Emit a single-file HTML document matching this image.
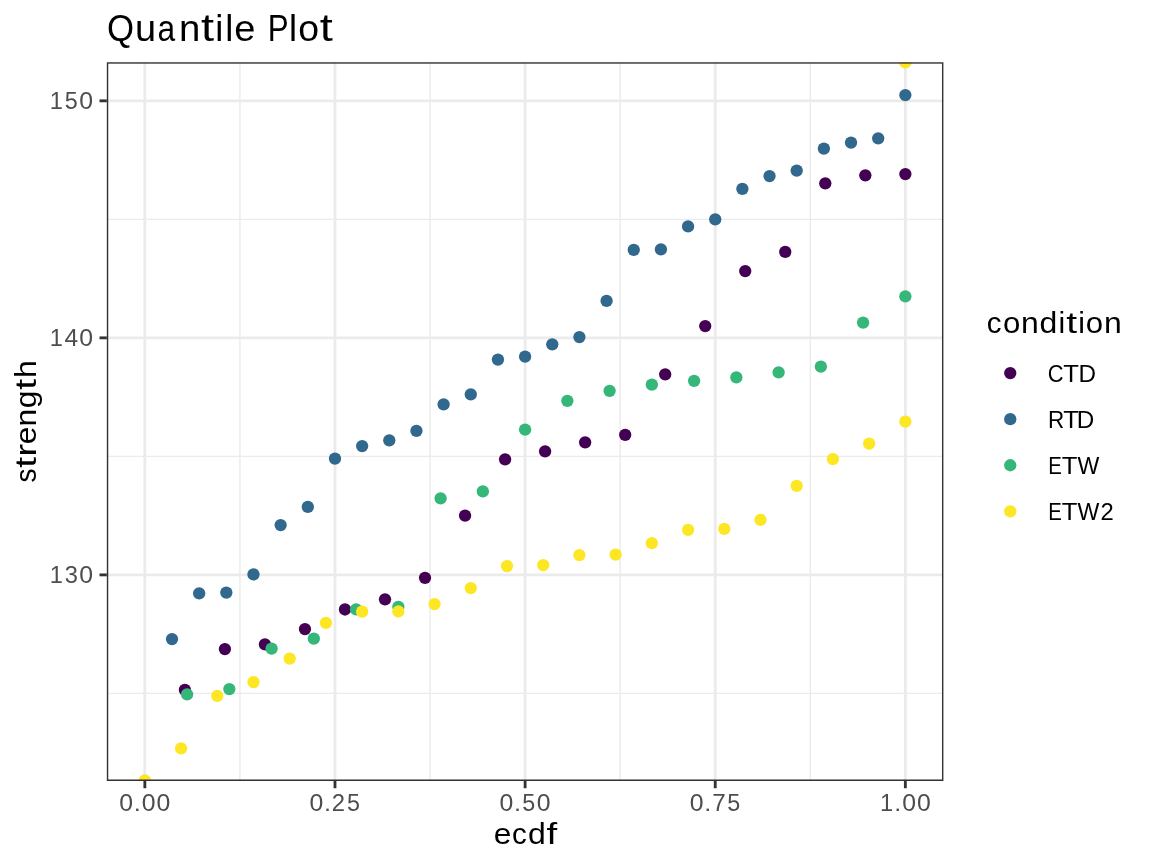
<!DOCTYPE html><html><head><meta charset="utf-8"><style>html,body{margin:0;padding:0;background:#fff;}svg{display:block;will-change:transform;}text{font-family:"Liberation Sans",sans-serif;}</style></head><body>
<svg width="1152" height="865" viewBox="0 0 1152 865">
<rect width="1152" height="865" fill="#fff"/>
<defs><clipPath id="pc"><rect x="106.83" y="62.25" width="836.57" height="718.65"/></clipPath></defs>
<g clip-path="url(#pc)">
<line x1="239.91" y1="62.25" x2="239.91" y2="780.9" stroke="#EBEBEB" stroke-width="1.4226"/>
<line x1="430.04" y1="62.25" x2="430.04" y2="780.9" stroke="#EBEBEB" stroke-width="1.4226"/>
<line x1="620.16" y1="62.25" x2="620.16" y2="780.9" stroke="#EBEBEB" stroke-width="1.4226"/>
<line x1="810.29" y1="62.25" x2="810.29" y2="780.9" stroke="#EBEBEB" stroke-width="1.4226"/>
<line x1="106.83" y1="693.39" x2="943.4" y2="693.39" stroke="#EBEBEB" stroke-width="1.4226"/>
<line x1="106.83" y1="456.36" x2="943.4" y2="456.36" stroke="#EBEBEB" stroke-width="1.4226"/>
<line x1="106.83" y1="219.34" x2="943.4" y2="219.34" stroke="#EBEBEB" stroke-width="1.4226"/>
<line x1="144.85" y1="62.25" x2="144.85" y2="780.9" stroke="#EBEBEB" stroke-width="2.845"/>
<line x1="334.98" y1="62.25" x2="334.98" y2="780.9" stroke="#EBEBEB" stroke-width="2.845"/>
<line x1="525.10" y1="62.25" x2="525.10" y2="780.9" stroke="#EBEBEB" stroke-width="2.845"/>
<line x1="715.23" y1="62.25" x2="715.23" y2="780.9" stroke="#EBEBEB" stroke-width="2.845"/>
<line x1="905.35" y1="62.25" x2="905.35" y2="780.9" stroke="#EBEBEB" stroke-width="2.845"/>
<line x1="106.83" y1="574.88" x2="943.4" y2="574.88" stroke="#EBEBEB" stroke-width="2.845"/>
<line x1="106.83" y1="337.85" x2="943.4" y2="337.85" stroke="#EBEBEB" stroke-width="2.845"/>
<line x1="106.83" y1="100.83" x2="943.4" y2="100.83" stroke="#EBEBEB" stroke-width="2.845"/>
<circle cx="184.88" cy="689.80" r="6.16" fill="#440154"/>
<circle cx="224.90" cy="649.05" r="6.16" fill="#440154"/>
<circle cx="264.93" cy="644.30" r="6.16" fill="#440154"/>
<circle cx="304.96" cy="629.05" r="6.16" fill="#440154"/>
<circle cx="344.98" cy="609.47" r="6.16" fill="#440154"/>
<circle cx="385.01" cy="599.30" r="6.16" fill="#440154"/>
<circle cx="425.03" cy="577.80" r="6.16" fill="#440154"/>
<circle cx="465.06" cy="515.55" r="6.16" fill="#440154"/>
<circle cx="505.09" cy="459.30" r="6.16" fill="#440154"/>
<circle cx="545.11" cy="451.30" r="6.16" fill="#440154"/>
<circle cx="585.14" cy="442.30" r="6.16" fill="#440154"/>
<circle cx="625.17" cy="434.80" r="6.16" fill="#440154"/>
<circle cx="665.19" cy="374.30" r="6.16" fill="#440154"/>
<circle cx="705.22" cy="326.05" r="6.16" fill="#440154"/>
<circle cx="745.24" cy="271.05" r="6.16" fill="#440154"/>
<circle cx="785.27" cy="251.80" r="6.16" fill="#440154"/>
<circle cx="825.30" cy="183.30" r="6.16" fill="#440154"/>
<circle cx="865.32" cy="175.30" r="6.16" fill="#440154"/>
<circle cx="905.35" cy="174.05" r="6.16" fill="#440154"/>
<circle cx="172.01" cy="639.05" r="6.16" fill="#31688E"/>
<circle cx="199.17" cy="593.30" r="6.16" fill="#31688E"/>
<circle cx="226.33" cy="592.55" r="6.16" fill="#31688E"/>
<circle cx="253.49" cy="574.30" r="6.16" fill="#31688E"/>
<circle cx="280.65" cy="525.05" r="6.16" fill="#31688E"/>
<circle cx="307.81" cy="506.80" r="6.16" fill="#31688E"/>
<circle cx="334.98" cy="458.55" r="6.16" fill="#31688E"/>
<circle cx="362.14" cy="446.05" r="6.16" fill="#31688E"/>
<circle cx="389.30" cy="440.30" r="6.16" fill="#31688E"/>
<circle cx="416.46" cy="430.80" r="6.16" fill="#31688E"/>
<circle cx="443.62" cy="404.30" r="6.16" fill="#31688E"/>
<circle cx="470.78" cy="394.30" r="6.16" fill="#31688E"/>
<circle cx="497.94" cy="359.55" r="6.16" fill="#31688E"/>
<circle cx="525.10" cy="356.55" r="6.16" fill="#31688E"/>
<circle cx="552.26" cy="344.30" r="6.16" fill="#31688E"/>
<circle cx="579.42" cy="337.05" r="6.16" fill="#31688E"/>
<circle cx="606.58" cy="300.90" r="6.16" fill="#31688E"/>
<circle cx="633.74" cy="249.80" r="6.16" fill="#31688E"/>
<circle cx="660.90" cy="249.30" r="6.16" fill="#31688E"/>
<circle cx="688.06" cy="226.40" r="6.16" fill="#31688E"/>
<circle cx="715.23" cy="219.30" r="6.16" fill="#31688E"/>
<circle cx="742.39" cy="188.80" r="6.16" fill="#31688E"/>
<circle cx="769.55" cy="176.05" r="6.16" fill="#31688E"/>
<circle cx="796.71" cy="170.55" r="6.16" fill="#31688E"/>
<circle cx="823.87" cy="148.55" r="6.16" fill="#31688E"/>
<circle cx="851.03" cy="142.55" r="6.16" fill="#31688E"/>
<circle cx="878.19" cy="138.30" r="6.16" fill="#31688E"/>
<circle cx="905.35" cy="95.05" r="6.16" fill="#31688E"/>
<circle cx="187.10" cy="694.30" r="6.16" fill="#35B779"/>
<circle cx="229.35" cy="689.05" r="6.16" fill="#35B779"/>
<circle cx="271.60" cy="648.55" r="6.16" fill="#35B779"/>
<circle cx="313.85" cy="638.55" r="6.16" fill="#35B779"/>
<circle cx="356.10" cy="609.40" r="6.16" fill="#35B779"/>
<circle cx="398.35" cy="606.80" r="6.16" fill="#35B779"/>
<circle cx="440.60" cy="498.30" r="6.16" fill="#35B779"/>
<circle cx="482.85" cy="491.30" r="6.16" fill="#35B779"/>
<circle cx="525.10" cy="429.55" r="6.16" fill="#35B779"/>
<circle cx="567.35" cy="400.80" r="6.16" fill="#35B779"/>
<circle cx="609.60" cy="390.80" r="6.16" fill="#35B779"/>
<circle cx="651.85" cy="384.55" r="6.16" fill="#35B779"/>
<circle cx="694.10" cy="380.80" r="6.16" fill="#35B779"/>
<circle cx="736.35" cy="377.30" r="6.16" fill="#35B779"/>
<circle cx="778.60" cy="372.30" r="6.16" fill="#35B779"/>
<circle cx="820.85" cy="366.55" r="6.16" fill="#35B779"/>
<circle cx="863.10" cy="322.55" r="6.16" fill="#35B779"/>
<circle cx="905.35" cy="296.30" r="6.16" fill="#35B779"/>
<circle cx="144.85" cy="780.40" r="6.16" fill="#FDE725"/>
<circle cx="181.06" cy="748.40" r="6.16" fill="#FDE725"/>
<circle cx="217.28" cy="695.80" r="6.16" fill="#FDE725"/>
<circle cx="253.49" cy="682.05" r="6.16" fill="#FDE725"/>
<circle cx="289.71" cy="658.55" r="6.16" fill="#FDE725"/>
<circle cx="325.92" cy="622.80" r="6.16" fill="#FDE725"/>
<circle cx="362.14" cy="611.70" r="6.16" fill="#FDE725"/>
<circle cx="398.35" cy="611.50" r="6.16" fill="#FDE725"/>
<circle cx="434.56" cy="604.05" r="6.16" fill="#FDE725"/>
<circle cx="470.78" cy="588.05" r="6.16" fill="#FDE725"/>
<circle cx="506.99" cy="566.05" r="6.16" fill="#FDE725"/>
<circle cx="543.21" cy="565.05" r="6.16" fill="#FDE725"/>
<circle cx="579.42" cy="555.05" r="6.16" fill="#FDE725"/>
<circle cx="615.64" cy="554.55" r="6.16" fill="#FDE725"/>
<circle cx="651.85" cy="543.20" r="6.16" fill="#FDE725"/>
<circle cx="688.06" cy="529.80" r="6.16" fill="#FDE725"/>
<circle cx="724.28" cy="528.80" r="6.16" fill="#FDE725"/>
<circle cx="760.49" cy="519.80" r="6.16" fill="#FDE725"/>
<circle cx="796.71" cy="485.80" r="6.16" fill="#FDE725"/>
<circle cx="832.92" cy="459.05" r="6.16" fill="#FDE725"/>
<circle cx="869.14" cy="443.55" r="6.16" fill="#FDE725"/>
<circle cx="905.35" cy="421.55" r="6.16" fill="#FDE725"/>
<circle cx="905.35" cy="62.45" r="6.16" fill="#FDE725"/>
<rect x="106.83" y="62.25" width="836.57" height="718.65" fill="none" stroke="#333333" stroke-width="2.845"/>
</g>
<line x1="144.85" y1="780.9" x2="144.85" y2="788.23" stroke="#333333" stroke-width="2.845"/>
<line x1="334.98" y1="780.9" x2="334.98" y2="788.23" stroke="#333333" stroke-width="2.845"/>
<line x1="525.10" y1="780.9" x2="525.10" y2="788.23" stroke="#333333" stroke-width="2.845"/>
<line x1="715.23" y1="780.9" x2="715.23" y2="788.23" stroke="#333333" stroke-width="2.845"/>
<line x1="905.35" y1="780.9" x2="905.35" y2="788.23" stroke="#333333" stroke-width="2.845"/>
<line x1="99.50" y1="574.88" x2="106.83" y2="574.88" stroke="#333333" stroke-width="2.845"/>
<line x1="99.50" y1="337.85" x2="106.83" y2="337.85" stroke="#333333" stroke-width="2.845"/>
<line x1="99.50" y1="100.83" x2="106.83" y2="100.83" stroke="#333333" stroke-width="2.845"/>
<g font-size="22.29" fill="#4D4D4D"><text transform="translate(56.52,583.41) scale(1.0587,1.0618)" x="-6.49">1</text><text transform="translate(71.16,583.41) scale(1.0637,1.0645)" x="-6.13">3</text><text transform="translate(86.15,583.41) scale(1.1133,1.0645)" x="-6.21">0</text></g>
<g font-size="22.29" fill="#4D4D4D"><text transform="translate(56.52,346.39) scale(1.0587,1.0618)" x="-6.49">1</text><text transform="translate(71.16,346.39) scale(1.1047,1.0618)" x="-6.13">4</text><text transform="translate(86.15,346.39) scale(1.1133,1.0645)" x="-6.21">0</text></g>
<g font-size="22.29" fill="#4D4D4D"><text transform="translate(56.52,109.37) scale(1.0587,1.0618)" x="-6.49">1</text><text transform="translate(71.13,109.37) scale(1.0471,1.0618)" x="-6.19">5</text><text transform="translate(86.15,109.37) scale(1.1133,1.0645)" x="-6.21">0</text></g>
<g font-size="22.29" fill="#4D4D4D"><text transform="translate(126.17,811.00) scale(1.1133,1.0645)" x="-6.21">0</text><text transform="translate(137.38,811.00) scale(1.1357,1.0000)" x="-3.12">.</text><text transform="translate(148.56,811.00) scale(1.1133,1.0645)" x="-6.21">0</text><text transform="translate(163.49,811.00) scale(1.1133,1.0645)" x="-6.21">0</text></g>
<g font-size="22.29" fill="#4D4D4D"><text transform="translate(316.30,811.00) scale(1.1133,1.0645)" x="-6.21">0</text><text transform="translate(327.50,811.00) scale(1.1357,1.0000)" x="-3.12">.</text><text transform="translate(338.37,811.00) scale(1.0700,1.0645)" x="-6.19">2</text><text transform="translate(353.53,811.00) scale(1.0471,1.0618)" x="-6.19">5</text></g>
<g font-size="22.29" fill="#4D4D4D"><text transform="translate(506.42,811.00) scale(1.1133,1.0645)" x="-6.21">0</text><text transform="translate(517.63,811.00) scale(1.1357,1.0000)" x="-3.12">.</text><text transform="translate(528.73,811.00) scale(1.0471,1.0618)" x="-6.19">5</text><text transform="translate(543.74,811.00) scale(1.1133,1.0645)" x="-6.21">0</text></g>
<g font-size="22.29" fill="#4D4D4D"><text transform="translate(696.55,811.00) scale(1.1133,1.0645)" x="-6.21">0</text><text transform="translate(707.75,811.00) scale(1.1357,1.0000)" x="-3.12">.</text><text transform="translate(718.91,811.00) scale(1.0875,1.0618)" x="-6.21">7</text><text transform="translate(733.78,811.00) scale(1.0471,1.0618)" x="-6.19">5</text></g>
<g font-size="22.29" fill="#4D4D4D"><text transform="translate(886.91,811.00) scale(1.0587,1.0618)" x="-6.49">1</text><text transform="translate(897.88,811.00) scale(1.1357,1.0000)" x="-3.12">.</text><text transform="translate(909.06,811.00) scale(1.1133,1.0645)" x="-6.21">0</text><text transform="translate(923.99,811.00) scale(1.1133,1.0645)" x="-6.21">0</text></g>
<g font-size="35.20" fill="#000000"><text transform="translate(120.56,40.78) scale(0.9890,1.0645)" x="-13.68">Q</text><text transform="translate(145.49,40.78) scale(1.0765,1.0379)" x="-9.77">u</text><text transform="translate(167.01,40.78) scale(0.9024,1.0419)" x="-10.52">a</text><text transform="translate(189.59,40.78) scale(1.0888,1.0419)" x="-9.81">n</text><text transform="translate(207.59,40.78) scale(1.3333,1.0891)" x="-5.02">t</text><text transform="translate(219.37,40.78) scale(1.0286,1.0483)" x="-3.92">i</text><text transform="translate(229.15,40.78) scale(1.0286,1.0483)" x="-3.92">l</text><text transform="translate(244.86,40.78) scale(1.0798,1.0419)" x="-9.77">e</text><text transform="translate(278.59,40.78) scale(0.8873,1.0618)" x="-12.28">P</text><text transform="translate(293.00,40.78) scale(1.0286,1.0483)" x="-3.92">l</text><text transform="translate(308.63,40.78) scale(1.0635,1.0419)" x="-9.81">o</text><text transform="translate(326.34,40.78) scale(1.3333,1.0891)" x="-5.02">t</text></g>
<g font-size="27.87" fill="#000000"><text transform="translate(502.61,844.00) scale(1.1366,1.0419)" x="-7.73">e</text><text transform="translate(519.56,844.00) scale(1.0588,1.0419)" x="-7.18">c</text><text transform="translate(536.53,844.00) scale(1.1462,1.0483)" x="-7.45">d</text><text transform="translate(552.11,844.00) scale(1.3803,1.0519)" x="-4.11">f</text></g>
<g font-size="27.87" fill="#000000"><text transform="translate(36.10,475.61) rotate(-90) scale(1.0045,1.0419)" x="-6.86">s</text><text transform="translate(36.10,462.27) rotate(-90) scale(1.4000,1.0891)" x="-3.97">t</text><text transform="translate(36.10,449.23) rotate(-90) scale(1.3474,1.0419)" x="-5.36">r</text><text transform="translate(36.10,435.45) rotate(-90) scale(1.1366,1.0419)" x="-7.73">e</text><text transform="translate(36.10,417.72) rotate(-90) scale(1.1461,1.0419)" x="-7.77">n</text><text transform="translate(36.10,399.71) rotate(-90) scale(1.1462,1.0419)" x="-7.45">g</text><text transform="translate(36.10,384.10) rotate(-90) scale(1.4000,1.0891)" x="-3.97">t</text><text transform="translate(36.10,369.00) rotate(-90) scale(1.1529,1.0483)" x="-7.80">h</text></g>
<g font-size="27.87" fill="#000000"><text transform="translate(994.42,333.30) scale(1.0588,1.0419)" x="-7.18">c</text><text transform="translate(1011.57,333.30) scale(1.1195,1.0419)" x="-7.77">o</text><text transform="translate(1029.92,333.30) scale(1.1461,1.0419)" x="-7.77">n</text><text transform="translate(1047.93,333.30) scale(1.1462,1.0483)" x="-7.45">d</text><text transform="translate(1061.85,333.30) scale(1.0827,1.0483)" x="-3.10">i</text><text transform="translate(1071.69,333.30) scale(1.4000,1.0891)" x="-3.97">t</text><text transform="translate(1081.50,333.30) scale(1.0827,1.0483)" x="-3.10">i</text><text transform="translate(1094.53,333.30) scale(1.1195,1.0419)" x="-7.77">o</text><text transform="translate(1112.88,333.30) scale(1.1461,1.0419)" x="-7.77">n</text></g>
<circle cx="1010.25" cy="373.10" r="6.16" fill="#440154"/>
<g font-size="22.29" fill="#000000"><text transform="translate(1055.81,381.95) scale(0.9819,1.0645)" x="-8.16">C</text><text transform="translate(1071.17,381.95) scale(1.1504,1.0618)" x="-6.80">T</text><text transform="translate(1087.79,381.95) scale(1.0882,1.0618)" x="-8.44">D</text></g>
<circle cx="1010.25" cy="419.18" r="6.16" fill="#31688E"/>
<g font-size="22.29" fill="#000000"><text transform="translate(1056.55,428.03) scale(1.0082,1.0618)" x="-8.44">R</text><text transform="translate(1071.09,428.03) scale(1.1504,1.0618)" x="-6.80">T</text><text transform="translate(1086.01,428.03) scale(1.0882,1.0618)" x="-8.44">D</text></g>
<circle cx="1010.25" cy="465.26" r="6.16" fill="#35B779"/>
<g font-size="22.29" fill="#000000"><text transform="translate(1055.40,474.11) scale(0.9120,1.0618)" x="-7.89">E</text><text transform="translate(1069.61,474.11) scale(1.1504,1.0618)" x="-6.80">T</text><text transform="translate(1088.35,474.11) scale(1.0386,1.0618)" x="-10.53">W</text></g>
<circle cx="1010.25" cy="511.34" r="6.16" fill="#FDE725"/>
<g font-size="22.29" fill="#000000"><text transform="translate(1055.40,520.19) scale(0.9120,1.0618)" x="-7.89">E</text><text transform="translate(1069.61,520.19) scale(1.1504,1.0618)" x="-6.80">T</text><text transform="translate(1088.35,520.19) scale(1.0386,1.0618)" x="-10.53">W</text><text transform="translate(1107.09,520.19) scale(1.0700,1.0645)" x="-6.19">2</text></g>
</svg></body></html>
